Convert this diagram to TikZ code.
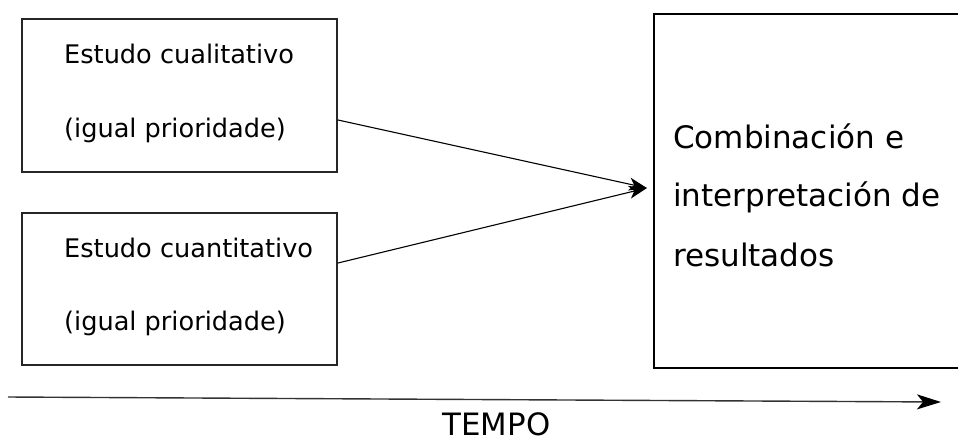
\documentclass[tikz,border=0pt]{standalone}
\usepackage{fontspec}
\setmainfont{DejaVu Sans}
\usetikzlibrary{arrows.meta}
\tikzset{
  boxnode/.style={draw=black!85, line width=1.6pt, rectangle, inner sep=0pt},
  bigbox/.style={draw=black, line width=2.2pt, rectangle, inner sep=0pt},
  smalltext/.style={anchor=base west, inner sep=0pt, font=\fontsize{25.6}{30}\selectfont},
  bigtext/.style={anchor=base west, inner sep=0pt, font=\fontsize{31}{36}\selectfont},
  conn/.style={line width=1.1pt, -{Stealth[length=18pt,width=13pt,inset=5pt]}},
  timeline/.style={line width=1.4pt, black!80, -{Stealth[length=24pt,width=15pt,inset=6pt,black]}}
}
\begin{document}
\begin{tikzpicture}[x=1pt,y=-1pt]
\useasboundingbox (0,0) rectangle (958,437);
% boxes
\node[boxnode, minimum width=315pt, minimum height=153pt] (b1) at (179.5,95.5) {};
\node[boxnode, minimum width=315pt, minimum height=152pt] (b2) at (179.5,289) {};
\node[bigbox, minimum width=330pt, minimum height=354pt] (big) at (819,191) {};
% texts
\node[smalltext] (t1a) at (64,63) {Estudo cualitativo};
\node[smalltext] (t1b) at (64,137) {(igual prioridade)};
\node[smalltext] (t2a) at (64,257) {Estudo cuantitativo};
\node[smalltext] (t2b) at (64,330) {(igual prioridade)};
\node[bigtext] (c1) at (673,148) {Combinación e};
\node[bigtext] (c2) at (673,206) {interpretación de};
\node[bigtext] (c3) at (673,266) {resultados};
% connectors
\coordinate (s1) at (338,120);
\coordinate (s2) at (338,263);
\coordinate (tip) at ([xshift=-6pt,yshift=3pt]big.west);
\draw[conn] (s1) -- (tip);
\draw[conn] (s2) -- (tip);
% timeline
\coordinate (tl0) at (8,397);
\coordinate (tl1) at (941,402);
\draw[timeline] (tl0) -- (tl1);
\node[anchor=base, inner sep=0pt, font=\fontsize{30.8}{36}\selectfont] (tempo) at (496.5,435) {TEMPO};
\end{tikzpicture}
\end{document}
